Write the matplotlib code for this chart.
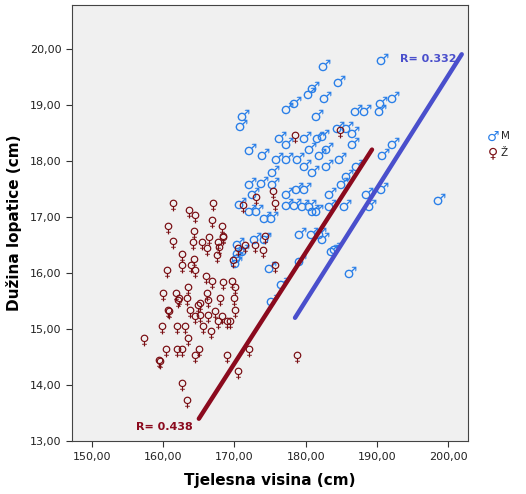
import matplotlib
matplotlib.use("Agg")
import matplotlib.pyplot as plt
from matplotlib.ticker import FuncFormatter

# visina (cm), duzina lopatice (cm) - muski
male_x = [190.7, 182.6, 184.7, 181.0, 180.5, 182.7, 192.3, 190.6, 190.4, 171.2,
          170.9, 177.4, 178.5, 181.6, 187.1, 188.3, 184.6, 185.8, 186.7, 176.4,
          177.4, 179.9, 181.7, 182.4, 186.7, 192.3, 172.2, 174.0, 180.6, 182.0,
          183.0, 190.9, 176.0, 177.4, 178.9, 184.8, 179.9, 181.0, 183.0, 187.2,
          185.8, 185.1, 175.4, 172.2, 173.9, 175.4, 172.6, 177.4, 178.8, 179.9,
          183.4, 188.6, 190.7, 170.8, 177.4, 178.5, 179.6, 180.6, 181.0, 181.6,
          183.4, 185.5, 189.0, 172.2, 173.2, 174.3, 175.3, 179.2, 180.9, 182.4,
          183.7, 184.1, 186.2, 179.2, 175.0, 170.5, 170.5, 172.9, 171.2, 170.4,
          174.3, 176.7, 175.3, 198.7, 182.0, 170.2]
male_y = [19.82, 19.71, 19.43, 19.32, 19.21, 19.13, 19.13, 19.04, 18.91, 18.82,
          18.63, 18.95, 19.04, 18.82, 18.91, 18.91, 18.61, 18.61, 18.52, 18.43,
          18.32, 18.43, 18.43, 18.46, 18.32, 18.32, 18.21, 18.13, 18.23, 18.13,
          18.23, 18.13, 18.05, 18.05, 18.05, 18.05, 17.93, 17.82, 17.93, 17.93,
          17.75, 17.61, 17.82, 17.61, 17.63, 17.61, 17.43, 17.43, 17.52, 17.52,
          17.43, 17.43, 17.52, 17.25, 17.23, 17.23, 17.21, 17.21, 17.13, 17.13,
          17.21, 17.21, 17.21, 17.13, 17.13, 17.00, 17.00, 16.71, 16.71, 16.63,
          16.41, 16.45, 16.02, 16.23, 16.11, 16.54, 16.38, 16.63, 16.41, 16.29,
          16.63, 15.82, 15.52, 17.32, 16.71, 16.20]

# zenske
female_x = [161.4, 167.0, 163.6, 164.5, 160.7, 166.9, 168.3, 164.3, 161.4, 164.2,
            165.4, 166.4, 166.2, 167.7, 168.4, 167.8, 167.6, 162.6, 164.3, 162.6,
            163.9, 164.5, 160.5, 166.0, 166.9, 168.4, 169.7, 170.1, 163.5, 160.0,
            161.8, 162.2, 163.3, 166.2, 168.0, 169.9, 165.2, 160.7, 162.1, 164.9,
            166.3, 163.8, 164.5, 165.2, 166.3, 167.3, 168.3, 167.7, 169.0, 169.4,
            170.1, 159.8, 161.9, 163.1, 165.6, 166.7, 163.5, 157.3, 160.4, 161.9,
            162.6, 165.0, 164.5, 159.4, 169.0, 172.1, 170.5, 162.6, 163.3, 178.8,
            171.2, 173.0, 175.4, 175.7, 168.4, 171.5, 170.5, 172.9, 174.0, 174.3,
            169.8, 178.5, 184.8, 175.7, 159.6, 160.8]
female_y = [17.21, 17.21, 17.09, 17.00, 16.80, 16.91, 16.80, 16.71, 16.54, 16.52,
            16.52, 16.61, 16.41, 16.52, 16.61, 16.43, 16.29, 16.30, 16.21, 16.11,
            16.11, 16.02, 16.02, 15.91, 15.82, 15.80, 15.82, 15.71, 15.71, 15.61,
            15.61, 15.52, 15.52, 15.61, 15.52, 15.52, 15.43, 15.30, 15.48, 15.39,
            15.48, 15.30, 15.20, 15.21, 15.21, 15.29, 15.20, 15.11, 15.11, 15.11,
            15.30, 15.02, 15.02, 15.02, 15.02, 14.93, 14.80, 14.80, 14.61, 14.61,
            14.61, 14.61, 14.50, 14.41, 14.50, 14.61, 14.21, 14.00, 13.70, 14.50,
            17.18, 17.32, 17.43, 17.21, 16.63, 16.46, 16.41, 16.46, 16.38, 16.63,
            16.20, 18.43, 18.52, 16.11, 14.39, 15.29]

# linije (krajnje tocke ocitane sa slike)
male_fit_x = [178.5, 201.9]
male_fit_y = [15.2, 19.9]
female_fit_x = [165.0, 189.3]
female_fit_y = [13.4, 18.2]

r_male = "R= 0.332"
r_female = "R= 0.438"

male_col = "#2a7fe8"
female_col = "#7a0f14"
male_line = "#4a4fcc"
female_line = "#8b0a1e"

fig = plt.figure(figsize=(5.26, 4.94), dpi=100)
ax = fig.add_axes([0.137, 0.107, 0.753, 0.883])
ax.set_facecolor("#f0f0f0")

ax.scatter(male_x, male_y, marker="$\u2642$", s=72, c=male_col, linewidths=0, zorder=3)
ax.scatter(female_x, female_y, marker="$\u2640$", s=72, c=female_col, linewidths=0, zorder=3)

ax.plot(female_fit_x, female_fit_y, color=female_line, lw=3.2, solid_capstyle="round", zorder=4)
ax.plot(male_fit_x, male_fit_y, color=male_line, lw=3.2, solid_capstyle="round", zorder=4)

ax.text(193.2, 19.82, r_male, color=male_line, fontsize=8, fontweight="bold", va="center")
ax.text(156.2, 13.25, r_female, color=female_line, fontsize=8, fontweight="bold", va="center")

ax.set_xlim(147.2, 202.8)
ax.set_ylim(13.0, 20.78)
ax.set_xticks([150, 160, 170, 180, 190, 200])
ax.set_yticks([13, 14, 15, 16, 17, 18, 19, 20])
fmt = FuncFormatter(lambda v, p: f"{v:.2f}".replace(".", ","))
ax.xaxis.set_major_formatter(fmt)
ax.yaxis.set_major_formatter(fmt)
ax.tick_params(labelsize=8, length=4, color="#333333", labelcolor="#222222")
for sp in ax.spines.values():
    sp.set_color("#444444")

ax.set_xlabel("Tjelesna visina (cm)", fontsize=11, fontweight="bold", labelpad=8)
ax.set_ylabel("Dužina lopatice (cm)", fontsize=11, fontweight="bold", labelpad=6)

# legenda
fig.text(0.937, 0.724, "\u2642", color=male_col, fontsize=10, ha="center", va="center")
fig.text(0.952, 0.724, "M", color="#222222", fontsize=7.5, va="center")
fig.text(0.937, 0.690, "\u2640", color=female_col, fontsize=10, ha="center", va="center")
fig.text(0.952, 0.690, "Ž", color="#222222", fontsize=7.5, va="center")

fig.savefig("out.png", dpi=100)
